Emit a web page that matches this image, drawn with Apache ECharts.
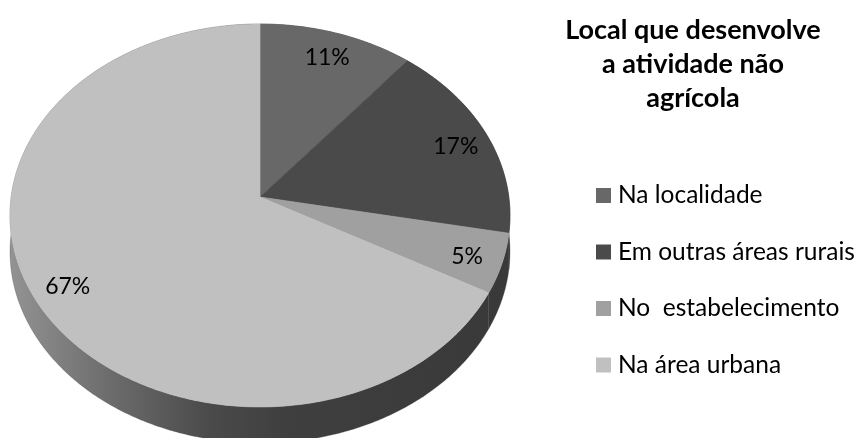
<!DOCTYPE html>
<html>
<head>
<meta charset="utf-8">
<script src="https://cdn.jsdelivr.net/npm/echarts@6/dist/echarts.min.js"></script>
<style>
  html, body { margin: 0; padding: 0; background: #fff; }
  #chart { width: 861px; height: 438px; }
</style>
</head>
<body>
<div id="chart"></div>
<script>
const categories = ['Na localidade', 'Em outras áreas rurais', 'No  estabelecimento', 'Na área urbana'];
const values = [11, 17, 5, 67];
const sliceColors = ['#686868', '#4a4a4a', '#a0a0a0', '#c0c0c0'];
const titleLines = ['Local que desenvolve', 'a atividade não', 'agrícola'];

const total = values.reduce((s, v) => s + v, 0);
const starts = values.map((v, i) => values.slice(0, i).reduce((s, x) => s + x, 0));

// Tilted disc seen in perspective; the rim wall hangs DEPTH px below the top face.
const DISC = { cx: 260, cy: 197, rx: 248.8, ry: 189.7, persp: 0.0966, depth: 36,
               labelR: 0.86, labelDy: 3 };

function project(theta, r, dy) {
  const X = r * Math.sin(theta);
  const Z = r * Math.cos(theta);
  const k = 1 + DISC.persp * Z;
  return [DISC.cx + DISC.rx * X / k, DISC.cy - DISC.ry * Z / k + dy];
}

function arc(t0, t1, r, dy) {
  const n = Math.max(2, Math.ceil((t1 - t0) / (Math.PI / 360)));
  const pts = [];
  for (let i = 0; i <= n; i++) pts.push(project(t0 + (t1 - t0) * i / n, r, dy));
  return pts;
}

const wallFill = {
  type: 'linear', x: 10, y: 0, x2: 510, y2: 0, global: true,
  colorStops: [
    { offset: 0, color: '#939393' },
    { offset: 0.2, color: '#6c6c6c' },
    { offset: 0.4, color: '#4a4a4a' },
    { offset: 0.55, color: '#3f3f3f' },
    { offset: 1, color: '#393939' }
  ]
};

function renderSlice(params, api) {
  const v = api.value(0);
  const s = api.value(1);
  const t0 = s / total * 2 * Math.PI;
  const t1 = (s + v) / total * 2 * Math.PI;
  const rimTop = arc(t0, t1, 1, 0);
  const rimBottom = arc(t0, t1, 1, DISC.depth).reverse();
  const face = [project(0, 0, 0)].concat(rimTop);
  const lp = project((t0 + t1) / 2, DISC.labelR, DISC.labelDy);
  const color = api.visual('color');
  return {
    type: 'group',
    children: [
      { type: 'polygon', z2: 1, shape: { points: rimTop.concat(rimBottom) },
        style: { fill: wallFill, stroke: '#3c3c3c', lineWidth: 0.3 } },
      { type: 'polygon', z2: 10, shape: { points: face },
        style: { fill: color, stroke: color, lineWidth: 0.6 } },
      { type: 'text', z2: 20, x: lp[0], y: lp[1],
        style: { text: Math.round(v / total * 100) + '%', fill: '#000',
                 fontFamily: 'Lato', fontSize: 23, align: 'center', verticalAlign: 'middle' } }
    ]
  };
}

const chart = echarts.init(document.getElementById('chart'), null, { renderer: 'canvas' });
chart.setOption({
  animation: false,
  backgroundColor: '#fff',
  title: {
    text: titleLines.join('\n'),
    left: 693,
    top: 13,
    padding: 0,
    textAlign: 'center',
    textStyle: { fontFamily: 'Lato', fontWeight: 'bold', fontSize: 27, lineHeight: 34, color: '#000' }
  },
  legend: {
    data: categories,
    orient: 'vertical',
    left: 596,
    top: 183,
    padding: 0,
    icon: 'rect',
    itemWidth: 15,
    itemHeight: 15,
    itemGap: 31.5,
    selectedMode: false,
    textStyle: { fontFamily: 'Lato', fontSize: 24.5, color: '#000', lineHeight: 24, padding: [0, 0, 0, 2] }
  },
  series: categories.map((name, i) => ({
    type: 'custom',
    name: name,
    coordinateSystem: 'none',
    renderItem: renderSlice,
    itemStyle: { color: sliceColors[i] },
    silent: true,
    data: [[values[i], starts[i]]]
  }))
});
</script>
</body>
</html>
